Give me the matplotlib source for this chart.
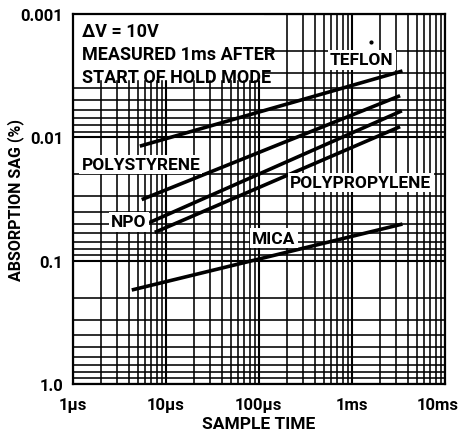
import numpy as np
import matplotlib.pyplot as plt
from matplotlib.ticker import LogLocator, NullFormatter
from matplotlib.transforms import ScaledTranslation

plt.rcParams['font.family'] = ['Roboto', 'DejaVu Sans']
plt.rcParams['font.weight'] = 'bold'
plt.rcParams['axes.labelweight'] = 'bold'

# sample time in microseconds, absorption sag in percent
teflon_t = [5.25, 3500]
teflon_sag = [0.0118, 0.0029]
polystyrene_t = [5.5, 3300]
polystyrene_sag = [0.032, 0.0046]
npo_t = [6.7, 3450]
npo_sag = [0.049, 0.0061]
polypropylene_t = [7.6, 3300]
polypropylene_sag = [0.059, 0.0082]
mica_t = [4.3, 3500]
mica_sag = [0.173, 0.0505]

x_ticks = [1, 10, 100, 1000, 10000]
x_labels = ['1μs', '10μs', '100μs', '1ms', '10ms']
y_ticks = [0.001, 0.01, 0.1, 1.0]
y_labels = ['0.001', '0.01', '0.1', '1.0']

fig = plt.figure(figsize=(4.61, 4.39), dpi=100)
ax = fig.add_axes([0.158, 0.123, 0.807, 0.843])

ax.set_xscale('log')
ax.set_yscale('log')
ax.set_xlim(1, 10000)
ax.set_ylim(1.0, 0.001)

ax.xaxis.set_minor_locator(LogLocator(base=10, subs=np.arange(2, 10)))
ax.yaxis.set_minor_locator(LogLocator(base=10, subs=np.arange(2, 10)))
ax.xaxis.set_minor_formatter(NullFormatter())
ax.yaxis.set_minor_formatter(NullFormatter())
ax.grid(True, which='major', color='black', lw=1.5)
ax.grid(True, which='minor', color='black', lw=1.15)
ax.set_axisbelow(True)

ax.set_xticks(x_ticks)
ax.set_xticklabels(x_labels)
ax.set_yticks(y_ticks)
ax.set_yticklabels(y_labels)
ax.tick_params(which='both', length=0, labelsize=12)
ax.tick_params(axis='y', pad=7)
ax.tick_params(axis='x', pad=9)
for s in ax.spines.values():
    s.set_linewidth(1.6)

# last x label sits a little inside the right edge
last = ax.get_xticklabels()[-1]
last.set_transform(last.get_transform() + ScaledTranslation(-5 / 72, 0, fig.dpi_scale_trans))

for t, sag in [(teflon_t, teflon_sag), (polystyrene_t, polystyrene_sag),
               (npo_t, npo_sag), (polypropylene_t, polypropylene_sag),
               (mica_t, mica_sag)]:
    ax.plot(t, sag, color='black', lw=2.6, solid_capstyle='butt', zorder=3)

# white patch behind the conditions text
ax.fill_between([1, 110], 0.001, 0.0034, color='white', zorder=2)
ax.text(1.25, 0.00117, 'ΔV = 10V\nMEASURED 1ms AFTER\nSTART OF HOLD MODE',
        fontsize=13, va='top', ha='left', linespacing=1.34, zorder=4)

box = dict(facecolor='white', edgecolor='none', pad=1.5)
ax.text(1280, 0.00236, 'TEFLON', fontsize=12.5, ha='center', va='center', bbox=box, zorder=4)
ax.text(5.4, 0.0165, 'POLYSTYRENE', fontsize=12.5, ha='center', va='center', bbox=box, zorder=4)
ax.text(4.0, 0.0486, 'NPO', fontsize=12.5, ha='center', va='center', bbox=box, zorder=4)
ax.plot([5.0, 6.7], [0.0486, 0.049], color='black', lw=1.2, zorder=3)
ax.text(1250, 0.0231, 'POLYPROPYLENE', fontsize=12.5, ha='center', va='center', bbox=box, zorder=4)
ax.text(145, 0.0656, 'MICA', fontsize=12.5, ha='center', va='center', bbox=box, zorder=4)
ax.plot([1600], [0.00169], marker='o', ms=2, color='black', zorder=4)

ax.set_xlabel('SAMPLE TIME', fontsize=12.5, labelpad=3)
ax.set_ylabel('ABSORPTION SAG (%)', fontsize=11.5)
ax.yaxis.set_label_coords(-0.13, 0.5)

plt.savefig('out.png', dpi=100)
